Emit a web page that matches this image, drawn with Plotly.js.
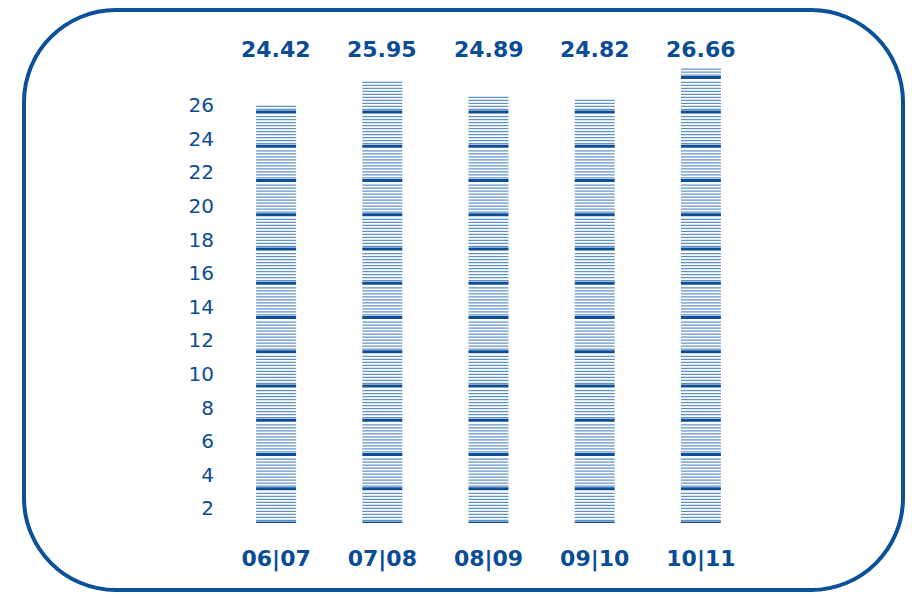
<!DOCTYPE html>
<html>
<head>
<meta charset="utf-8">
<script src="https://cdn.plot.ly/plotly-3.0.1.min.js"></script>
<style>html,body{margin:0;padding:0;background:#fff;}#chart{width:912px;height:598px;}</style>
</head>
<body>
<div id="chart"></div>
<script>
// ---- data ----
const categories = ['06|07', '07|08', '08|09', '09|10', '10|11'];
const values = [24.42, 25.95, 24.89, 24.82, 26.66];
const valueLabels = ['24.42', '25.95', '24.89', '24.82', '26.66'];
const yTickValues = [2, 4, 6, 8, 10, 12, 14, 16, 18, 20, 22, 24, 26];
const yTickLabels = ['2', '4', '6', '8', '10', '12', '14', '16', '18', '20', '22', '24', '26'];

// ---- style / geometry ----
const W = 912, H = 598;
const M = {l: 223, r: 158, t: 40, b: 75};
const plotW = W - M.l - M.r, plotH = H - M.t - M.b;
const PX_PER_UNIT = 17.13;
const DARK = '#0d4f97';
const THIN = '#5f92cb';
const TEXT = '#0b4d94';
const FONT = 'DejaVu Sans';
const BAR_PX = 40;                 // bar width in pixels
const LINE_EW_SIZE = BAR_PX / 1.4; // plotly line-ew full length = 1.4 * size

// stripe rendering of each bar: thick line every 2 units, thin lines between
const BLOCK = 2, THIN_START = 0.15, THIN_STEP = 0.175, THIN_COUNT = 10;
const thickX = [], thickY = [], thinX = [], thinY = [];
categories.forEach((c, i) => {
  const v = values[i];
  for (let k = 0; k * BLOCK <= v; k++) { thickX.push(c); thickY.push(k * BLOCK); }
  for (let k = 0; k * BLOCK < v; k++) {
    for (let j = 0; j < THIN_COUNT; j++) {
      const y = k * BLOCK + THIN_START + j * THIN_STEP;
      if (y <= v) { thinX.push(c); thinY.push(y); }
    }
  }
});

const traces = [
  {type: 'scatter', mode: 'markers', x: thinX, y: thinY, hoverinfo: 'skip', showlegend: false,
   marker: {symbol: 'line-ew', size: LINE_EW_SIZE, color: THIN, line: {color: THIN, width: 1.2}}},
  {type: 'scatter', mode: 'markers', x: thickX, y: thickY, hoverinfo: 'skip', showlegend: false,
   marker: {symbol: 'line-ew', size: LINE_EW_SIZE, color: DARK, line: {color: DARK, width: 3}}},
  {type: 'scatter', mode: 'markers', x: [categories[0]], y: [yTickValues[0]], yaxis: 'y2',
   hoverinfo: 'skip', showlegend: false, marker: {opacity: 0}}
];

// pixel -> paper helpers for decoration
const px = x => (x - M.l) / plotW;
const py = y => (H - M.b - y) / plotH;

// rounded border
const bx0 = 24, bx1 = 903, by0 = 10, by1 = 590, R = 92, K = 0.5523 * R;
const P = (x, y) => px(x) + ',' + py(y);
const path = 'M' + P(bx0 + R, by0) +
  ' L' + P(bx1 - R, by0) +
  ' C' + P(bx1 - R + K, by0) + ' ' + P(bx1, by0 + R - K) + ' ' + P(bx1, by0 + R) +
  ' L' + P(bx1, by1 - R) +
  ' C' + P(bx1, by1 - R + K) + ' ' + P(bx1 - R + K, by1) + ' ' + P(bx1 - R, by1) +
  ' L' + P(bx0 + R, by1) +
  ' C' + P(bx0 + R - K, by1) + ' ' + P(bx0, by1 - R + K) + ' ' + P(bx0, by1 - R) +
  ' L' + P(bx0, by0 + R) +
  ' C' + P(bx0, by0 + R - K) + ' ' + P(bx0 + R - K, by0) + ' ' + P(bx0 + R, by0) + ' Z';

const annotations = categories.map((c, i) => ({
  x: c, xref: 'x', y: py(50), yref: 'paper', text: valueLabels[i], showarrow: false,
  xanchor: 'center', yanchor: 'middle',
  font: {family: FONT, size: 22, weight: 'bold', color: TEXT}
}));

// y tick label axis (label spacing differs slightly from stripe spacing)
const Y2_PX = 16.8, Y2_ZERO = 541.9;
const y2Range = [(Y2_ZERO - (H - M.b)) / Y2_PX, (Y2_ZERO - M.t) / Y2_PX];

const layout = {
  width: W, height: H, margin: M,
  paper_bgcolor: '#ffffff', plot_bgcolor: '#ffffff',
  showlegend: false,
  xaxis: {type: 'category', range: [-0.5, categories.length - 0.5], showgrid: false, zeroline: false,
          showline: false, ticks: '', ticklabelstandoff: 20,
          tickfont: {family: FONT, size: 22, weight: 'bold', color: TEXT}},
  yaxis: {range: [0, plotH / PX_PER_UNIT], visible: false, showgrid: false, zeroline: false},
  yaxis2: {overlaying: 'y', anchor: 'x', side: 'left', range: y2Range, tickmode: 'array',
           tickvals: yTickValues, ticktext: yTickLabels, showgrid: false, zeroline: false,
           showline: false, ticks: '', ticklabelstandoff: 8,
           tickfont: {family: FONT, size: 20, color: TEXT}},
  shapes: [{type: 'path', xref: 'paper', yref: 'paper', path: path,
            line: {color: '#0b5099', width: 4}, fillcolor: 'rgba(0,0,0,0)'}],
  annotations: annotations
};

Plotly.newPlot('chart', traces, layout, {staticPlot: true, displayModeBar: false});
</script>
</body>
</html>
